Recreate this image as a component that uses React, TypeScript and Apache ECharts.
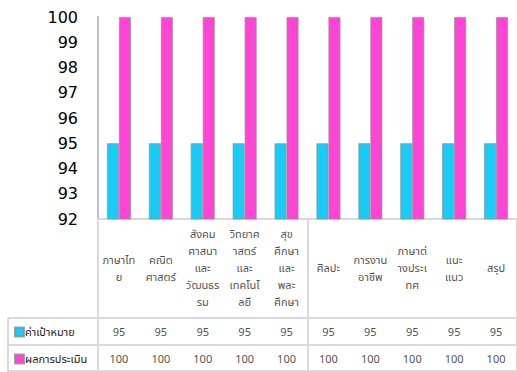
import React, { useEffect, useRef } from "react";
import * as echarts from "echarts";

// Data
const categories = [
  "ภาษาไทย",
  "คณิตศาสตร์",
  "สังคมศาสนาและวัฒนธรรม",
  "วิทยาศาสตร์และเทคโนโลยี",
  "สุขศึกษาและพละศึกษา",
  "ศิลปะ",
  "การงานอาชีพ",
  "ภาษาต่างประเทศ",
  "แนะแนว",
  "สรุป",
];
// tick labels as wrapped in the data table header
const headerLabels = [
  "ภาษาไท\nย",
  "คณิต\nศาสตร์",
  "สังคม\nศาสนา\nและ\nวัฒนธร\nรม",
  "วิทยาศ\nาสตร์\nและ\nเทคโนโ\nลยี",
  "สุข\nศึกษา\nและ\nพละ\nศึกษา",
  "ศิลปะ",
  "การงาน\nอาชีพ",
  "ภาษาต่\nางประเ\nทศ",
  "แนะ\nแนว",
  "สรุป",
];
const seriesNames = ["ค่าเป้าหมาย", "ผลการประเมิน"];
const targetValues = [95, 95, 95, 95, 95, 95, 95, 95, 95, 95];
const resultValues = [100, 100, 100, 100, 100, 100, 100, 100, 100, 100];
const yTicks = { min: 92, max: 100, interval: 1 };

const CYAN = "#19CCF7";
const MAGENTA = "#FF45D6";
const GRID_LINE = "#d9d9d9";
const THAI_FONT = "Tahoma, 'Noto Sans Thai', 'Noto Sans', 'DejaVu Sans', sans-serif";

export default function App() {
  const ref = useRef<HTMLDivElement>(null);

  useEffect(() => {
    if (!ref.current) return;
    const chart = echarts.init(ref.current, null, { renderer: "svg" });

    const L = 98;
    const W = 420;
    const tableRows = [
      { top: 219, height: 99 },
      { top: 318, height: 27 },
      { top: 345, height: 26 },
    ];

    const tableXAxis = (gridIndex: number) => ({
      type: "category" as const,
      gridIndex,
      data: categories,
      axisLine: { show: true, lineStyle: { color: GRID_LINE, width: 2 } },
      axisTick: { show: false },
      axisLabel: { show: false },
      splitLine: { show: true, lineStyle: { color: GRID_LINE, width: 2 } },
    });
    const tableYAxis = (gridIndex: number) => ({
      type: "value" as const,
      gridIndex,
      min: 0,
      max: 1,
      show: false,
    });
    const cellSeries = (gridIndex: number, texts: (string | number)[], dy: number) => ({
      type: "scatter" as const,
      xAxisIndex: gridIndex,
      yAxisIndex: gridIndex,
      data: texts.map((_, i) => [i, 0.5]),
      symbolSize: 1,
      itemStyle: { color: "rgba(0,0,0,0)" },
      silent: true,
      label: {
        show: true,
        position: "inside" as const,
        offset: [0, dy],
        formatter: (p: any) => String(texts[p.dataIndex]),
        color: "#1a1a1a",
        fontSize: 11,
        lineHeight: 17,
        fontFamily: THAI_FONT,
      },
    });

    const barStyle = (color: string) => ({
      color,
      borderColor: "rgba(140,140,140,0.8)",
      borderWidth: 0.8,
    });

    const legendText = {
      fontSize: 11,
      lineHeight: 14,
      color: "#1a1a1a",
      fontFamily: THAI_FONT,
      padding: [0, 0, 0, -4],
    };

    chart.setOption({
      animation: false,
      backgroundColor: "#ffffff",
      grid: [
        { left: L, top: 17, width: W, height: 202 },
        ...tableRows.map((r) => ({ left: L, top: r.top, width: W, height: r.height })),
      ],
      legend: [
        {
          data: [seriesNames[0]],
          left: 14,
          top: 325,
          itemWidth: 9,
          itemHeight: 9,
          icon: "rect",
          selectedMode: false,
          padding: 0,
          textStyle: legendText,
        },
        {
          data: [seriesNames[1]],
          left: 14,
          top: 352,
          itemWidth: 9,
          itemHeight: 9,
          icon: "rect",
          selectedMode: false,
          padding: 0,
          textStyle: legendText,
        },
      ],
      xAxis: [
        {
          type: "category",
          gridIndex: 0,
          data: categories,
          axisLine: { show: true, lineStyle: { color: GRID_LINE, width: 2 } },
          axisTick: { show: false },
          axisLabel: { show: false },
          splitLine: { show: false },
        },
        tableXAxis(1),
        tableXAxis(2),
        tableXAxis(3),
      ],
      yAxis: [
        {
          type: "value",
          gridIndex: 0,
          min: yTicks.min,
          max: yTicks.max,
          interval: yTicks.interval,
          axisLine: { show: true, lineStyle: { color: "#bfbfbf", width: 2 } },
          axisTick: { show: false },
          splitLine: { show: false },
          axisLabel: {
            color: "#000",
            fontSize: 16,
            margin: 20,
            fontFamily: "'DejaVu Sans', Verdana, sans-serif",
          },
        },
        tableYAxis(1),
        tableYAxis(2),
        tableYAxis(3),
      ],
      graphic: [
        { type: "line", shape: { x1: 8, y1: 318, x2: 8, y2: 372 }, style: { stroke: GRID_LINE, lineWidth: 2 } },
        { type: "line", shape: { x1: 8, y1: 318, x2: 98, y2: 318 }, style: { stroke: GRID_LINE, lineWidth: 2 } },
        { type: "line", shape: { x1: 8, y1: 345, x2: 98, y2: 345 }, style: { stroke: GRID_LINE, lineWidth: 2 } },
        { type: "line", shape: { x1: 8, y1: 371, x2: 98, y2: 371 }, style: { stroke: GRID_LINE, lineWidth: 2 } },
      ],
      series: [
        {
          name: seriesNames[0],
          type: "bar",
          xAxisIndex: 0,
          yAxisIndex: 0,
          data: targetValues,
          barWidth: 12,
          barGap: "0%",
          itemStyle: barStyle(CYAN),
        },
        {
          name: seriesNames[1],
          type: "bar",
          xAxisIndex: 0,
          yAxisIndex: 0,
          data: resultValues,
          barWidth: 12,
          barGap: "0%",
          itemStyle: barStyle(MAGENTA),
        },
        cellSeries(1, headerLabels, 0),
        cellSeries(2, targetValues, 1),
        cellSeries(3, resultValues, 1),
      ],
    });

    return () => chart.dispose();
  }, []);

  return (
    <div
      ref={ref}
      style={{ position: "fixed", left: 0, top: 0, width: 517, height: 372 }}
    />
  );
}
